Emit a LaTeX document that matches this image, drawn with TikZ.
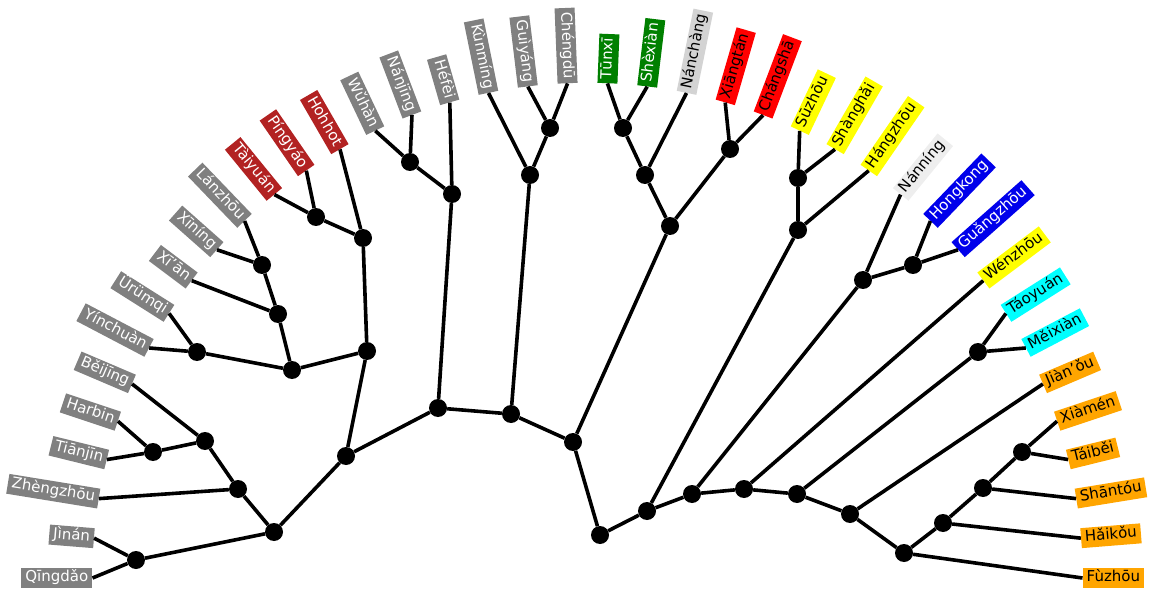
\documentclass[tikz,border=0pt]{standalone}
\usepackage{fontspec}
\setmainfont{DejaVu Sans}
\definecolor{cgray}{RGB}{128,128,128}
\definecolor{cdred}{RGB}{178,34,34}
\definecolor{cgreen}{RGB}{0,128,0}
\definecolor{clgray}{RGB}{211,211,211}
\definecolor{cred}{RGB}{255,0,0}
\definecolor{cyel}{RGB}{255,255,0}
\definecolor{cvlgray}{RGB}{238,238,238}
\definecolor{cblue}{RGB}{0,0,235}
\definecolor{ccyan}{RGB}{0,255,255}
\definecolor{corange}{RGB}{255,165,0}
\tikzset{
  leaf/.style={inner xsep=4pt, inner ysep=3pt, text height=10.5pt, text depth=3.5pt, font=\fontsize{15}{18}\selectfont},
  sgray/.style={fill=cgray, text=white},
  sdred/.style={fill=cdred, text=white},
  sgreen/.style={fill=cgreen, text=white},
  slgray/.style={fill=clgray, text=black},
  sred/.style={fill=cred, text=black},
  syel/.style={fill=cyel, text=black},
  svlgray/.style={fill=cvlgray, text=black},
  sblue/.style={fill=cblue, text=white},
  scyan/.style={fill=ccyan, text=black},
  sorange/.style={fill=corange, text=black},
  dot/.style={circle, fill=black, minimum size=18pt, inner sep=0pt},
  edge/.style={line width=3.6pt, black}
}
\begin{document}
\begin{tikzpicture}[x=1pt, y=-1pt]
\useasboundingbox (0,0) rectangle (1149,596);
% leaves
\foreach \i/\nm/\txt/\st in {
 1/qd/Qīngdǎo/sgray, 2/jn/Jìnán/sgray, 3/zz/Zhèngzhōu/sgray, 4/tj/Tiānjīn/sgray,
 5/hb/Harbin/sgray, 6/bj/Běijīng/sgray, 7/yc/Yínchuàn/sgray, 8/ur/Ürümqi/sgray,
 9/xa/Xī'ān/sgray, 10/xn/Xīníng/sgray, 11/lz/Lánzhōu/sgray, 12/ty/Tàiyuán/sdred,
 13/py/Píngyáo/sdred, 14/hh/Hohhot/sdred, 15/wh/Wǔhàn/sgray, 16/nj/Nánjīng/sgray,
 17/hf/Héfèi/sgray, 18/km/Kùnmíng/sgray, 19/gy/Guìyáng/sgray, 20/cd/Chéngdū/sgray,
 21/tx/Tūnxī/sgreen, 22/sx/Shèxiàn/sgreen, 23/nc/Nánchàng/slgray, 24/xt/Xiāngtán/sred,
 25/cs/Chángshā/sred, 26/sz/Sūzhōu/syel, 27/sh/Shànghǎi/syel, 28/hz/Hángzhōu/syel,
 29/nn/Nánníng/svlgray, 30/hg/Hongkong/sblue, 31/gz/Guǎngzhōu/sblue, 32/wz/Wénzhōu/syel,
 33/tyu/Táoyuán/scyan, 34/mx/Měixiàn/scyan, 35/jo/Jiàn'ǒu/sorange, 36/xm/Xiàmén/sorange,
 37/tb/Táiběi/sorange, 38/st/Shāntóu/sorange, 39/hk/Hǎikǒu/sorange, 40/fz/Fùzhōu/sorange}{
  \pgfmathsetmacro{\th}{180-(\i-1)*180/39}
  \pgfmathsetmacro{\px}{587.5+495*cos(\th)}
  \pgfmathsetmacro{\py}{578-495*sin(\th)}
  \ifnum\i<21
    \pgfmathsetmacro{\rt}{\th-180}
    \node[leaf,\st,rotate=\rt,anchor=east] (\nm) at (\px,\py) {\txt};
  \else
    \node[leaf,\st,rotate=\th,anchor=west] (\nm) at (\px,\py) {\txt};
  \fi
}
% internal nodes
\node[dot] (a1) at (136,560) {};
\node[dot] (a2) at (153,452) {};
\node[dot] (a3) at (205,441) {};
\node[dot] (a4) at (238,489) {};
\node[dot] (a5) at (274,532) {};
\node[dot] (b1) at (197,352) {};
\node[dot] (b2) at (262,265) {};
\node[dot] (b3) at (278,314) {};
\node[dot] (b4) at (292,370) {};
\node[dot] (c1) at (316,217) {};
\node[dot] (c2) at (363,238) {};
\node[dot] (c3) at (367,351) {};
\node[dot] (a6) at (346,456) {};
\node[dot] (d1) at (410,162) {};
\node[dot] (d2) at (452,194) {};
\node[dot] (e1) at (438,408) {};
\node[dot] (f1) at (550,128) {};
\node[dot] (f2) at (530,175) {};
\node[dot] (e2) at (511,414) {};
\node[dot] (g1) at (623,128) {};
\node[dot] (g2) at (645,175) {};
\node[dot] (g3) at (730,149) {};
\node[dot] (g4) at (670,226) {};
\node[dot] (e3) at (573,442) {};
\node[dot] (h1) at (798,178) {};
\node[dot] (h2) at (798,230) {};
\node[dot] (i1) at (913,265) {};
\node[dot] (i2) at (863,280) {};
\node[dot] (j1) at (978,352) {};
\node[dot] (k1) at (1022,452) {};
\node[dot] (k2) at (983,488) {};
\node[dot] (k3) at (943,523) {};
\node[dot] (k4) at (904,553) {};
\node[dot] (s6) at (850,514) {};
\node[dot] (s5) at (797,494) {};
\node[dot] (s4) at (744,489) {};
\node[dot] (s3) at (692,494) {};
\node[dot] (s2) at (647,511) {};
\node[dot] (r) at (600,535) {};
% edges
\draw[edge] (qd.east) -- (a1); \draw[edge] (jn.east) -- (a1);
\draw[edge] (hb.east) -- (a2); \draw[edge] (tj.east) -- (a2);
\draw[edge] (a2) -- (a3); \draw[edge] (bj.east) -- (a3);
\draw[edge] (a3) -- (a4); \draw[edge] (zz.east) -- (a4);
\draw[edge] (a4) -- (a5); \draw[edge] (a1) -- (a5);
\draw[edge] (yc.east) -- (b1); \draw[edge] (ur.east) -- (b1);
\draw[edge] (xn.east) -- (b2); \draw[edge] (lz.east) -- (b2);
\draw[edge] (b2) -- (b3); \draw[edge] (xa.east) -- (b3);
\draw[edge] (b1) -- (b4); \draw[edge] (b3) -- (b4);
\draw[edge] (ty.east) -- (c1); \draw[edge] (py.east) -- (c1);
\draw[edge] (c1) -- (c2); \draw[edge] (hh.east) -- (c2);
\draw[edge] (b4) -- (c3); \draw[edge] (c2) -- (c3);
\draw[edge] (a5) -- (a6); \draw[edge] (c3) -- (a6);
\draw[edge] (wh.east) -- (d1); \draw[edge] (nj.east) -- (d1);
\draw[edge] (d1) -- (d2); \draw[edge] (hf.east) -- (d2);
\draw[edge] (a6) -- (e1); \draw[edge] (d2) -- (e1);
\draw[edge] (gy.east) -- (f1); \draw[edge] (cd.east) -- (f1);
\draw[edge] (f1) -- (f2); \draw[edge] (km.east) -- (f2);
\draw[edge] (e1) -- (e2); \draw[edge] (f2) -- (e2);
\draw[edge] (tx.west) -- (g1); \draw[edge] (sx.west) -- (g1);
\draw[edge] (g1) -- (g2); \draw[edge] (nc.west) -- (g2);
\draw[edge] (xt.west) -- (g3); \draw[edge] (cs.west) -- (g3);
\draw[edge] (g2) -- (g4); \draw[edge] (g3) -- (g4);
\draw[edge] (e2) -- (e3); \draw[edge] (g4) -- (e3);
\draw[edge] (sz.west) -- (h1); \draw[edge] (sh.west) -- (h1);
\draw[edge] (h1) -- (h2); \draw[edge] (hz.west) -- (h2);
\draw[edge] (hg.west) -- (i1); \draw[edge] (gz.west) -- (i1);
\draw[edge] (i1) -- (i2); \draw[edge] (nn.west) -- (i2);
\draw[edge] (tyu.west) -- (j1); \draw[edge] (mx.west) -- (j1);
\draw[edge] (xm.west) -- (k1); \draw[edge] (tb.west) -- (k1);
\draw[edge] (k1) -- (k2); \draw[edge] (st.west) -- (k2);
\draw[edge] (k2) -- (k3); \draw[edge] (hk.west) -- (k3);
\draw[edge] (k3) -- (k4); \draw[edge] (fz.west) -- (k4);
\draw[edge] (jo.west) -- (s6); \draw[edge] (k4) -- (s6);
\draw[edge] (j1) -- (s5); \draw[edge] (s6) -- (s5);
\draw[edge] (wz.west) -- (s4); \draw[edge] (s5) -- (s4);
\draw[edge] (i2) -- (s3); \draw[edge] (s4) -- (s3);
\draw[edge] (h2) -- (s2); \draw[edge] (s3) -- (s2);
\draw[edge] (e3) -- (r); \draw[edge] (s2) -- (r);
\end{tikzpicture}
\end{document}
